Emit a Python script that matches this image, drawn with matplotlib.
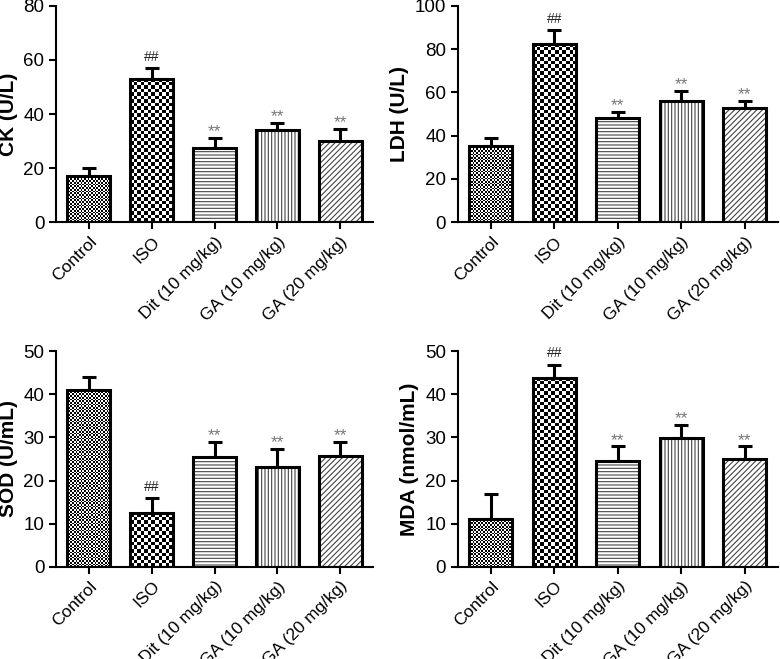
import numpy as np
import matplotlib
matplotlib.use("Agg")
import matplotlib.pyplot as plt
from matplotlib.transforms import ScaledTranslation

plt.rcParams['font.family'] = ['Liberation Sans', 'DejaVu Sans']
plt.rcParams['hatch.linewidth'] = 0.8
plt.rcParams['hatch.color'] = '#444444'

groups = ['Control', 'ISO', 'Dit (10 mg/kg)', 'GA (10 mg/kg)', 'GA (20 mg/kg)']
marks = ['', '##', '**', '**', '**']

ck = [17.1, 53.0, 27.5, 33.9, 30.0]
ck_err = [3.0, 4.0, 3.7, 2.8, 4.4]
ldh = [35.4, 82.6, 48.1, 55.8, 53.0]
ldh_err = [3.7, 6.3, 2.9, 4.9, 3.1]
sod = [40.9, 12.5, 25.5, 23.1, 25.8]
sod_err = [3.2, 3.5, 3.5, 4.2, 3.2]
mda = [11.0, 43.9, 24.5, 29.9, 25.0]
mda_err = [5.8, 3.0, 3.4, 3.1, 2.9]

panels = [
    ('CK (U/L)', ck, ck_err, 80, 20, [0.072, 0.663, 0.406, 0.328]),
    ('LDH (U/L)', ldh, ldh_err, 100, 20, [0.587, 0.663, 0.410, 0.328]),
    ('SOD (U/mL)', sod, sod_err, 50, 10, [0.072, 0.140, 0.406, 0.327]),
    ('MDA (nmol/mL)', mda, mda_err, 50, 10, [0.587, 0.140, 0.410, 0.327]),
]

# checker square size in pixels (None -> hatch)
checker = [1.7, 3.5, None, None, None]
hatches = [None, None, '-----', '|||||', '//////']

fig = plt.figure(figsize=(7.8, 6.59), dpi=100)
width = 0.68
x = np.arange(len(groups))

for label, vals, errs, ymax, step, pos in panels:
    ax = fig.add_axes(pos)
    ax.set_xlim(-0.52, len(groups) - 0.48)
    ax.set_ylim(0, ymax)

    ax.errorbar(x, vals, yerr=[np.zeros(len(vals)), errs], fmt='none',
                ecolor='black', elinewidth=2.2, capsize=5, capthick=2.2, zorder=1)

    for i in range(len(groups)):
        if checker[i] is not None:
            ax.bar(x[i], vals[i], width, facecolor='none',
                   edgecolor='black', linewidth=2.2, zorder=3)
            x0 = x[i] - width / 2
            x1 = x[i] + width / 2
            p0 = ax.transData.transform((x0, 0))
            p1 = ax.transData.transform((x1, vals[i]))
            nx = max(1, int(round((p1[0] - p0[0]) / checker[i])))
            ny = max(1, int(round((p1[1] - p0[1]) / checker[i])))
            board = np.add.outer(np.arange(ny), np.arange(nx)) % 2
            ax.imshow(board, cmap='gray', vmin=0, vmax=1, extent=(x0, x1, 0, vals[i]),
                      origin='lower', interpolation='nearest', aspect='auto', zorder=2)
        else:
            ax.bar(x[i], vals[i], width, facecolor='white', edgecolor='#444444',
                   linewidth=0, hatch=hatches[i], zorder=2)
            ax.bar(x[i], vals[i], width, facecolor='none', edgecolor='black',
                   linewidth=2.2, zorder=3)
        if marks[i] == '##':
            ax.annotate(marks[i], (x[i], vals[i] + errs[i]), xytext=(0, 3),
                        textcoords='offset points', ha='center', va='bottom',
                        fontsize=10, color='#222222')
        elif marks[i]:
            ax.annotate(marks[i], (x[i], vals[i] + errs[i]), xytext=(0, -1),
                        textcoords='offset points', ha='center', va='bottom',
                        fontsize=12.5, color='#777777')

    ax.set_xlim(-0.52, len(groups) - 0.48)
    ax.set_ylim(0, ymax)
    ax.set_yticks(np.arange(0, ymax + 1, step))
    ax.set_xticks(x)
    ax.set_xticklabels(groups, rotation=45, ha='right', rotation_mode='anchor', fontsize=12.5)
    shift = ScaledTranslation(-5 / 72, 0, fig.dpi_scale_trans)
    for t in ax.get_xticklabels():
        t.set_transform(t.get_transform() + shift)
    ax.tick_params(axis='y', labelsize=13.5, length=5, width=1.5)
    ax.tick_params(axis='x', length=5, width=1.5)
    ax.set_ylabel(label, fontsize=15, fontweight='bold')
    for s in ['top', 'right']:
        ax.spines[s].set_visible(False)
    for s in ['left', 'bottom']:
        ax.spines[s].set_linewidth(1.5)

fig.savefig('out.png', dpi=100)
